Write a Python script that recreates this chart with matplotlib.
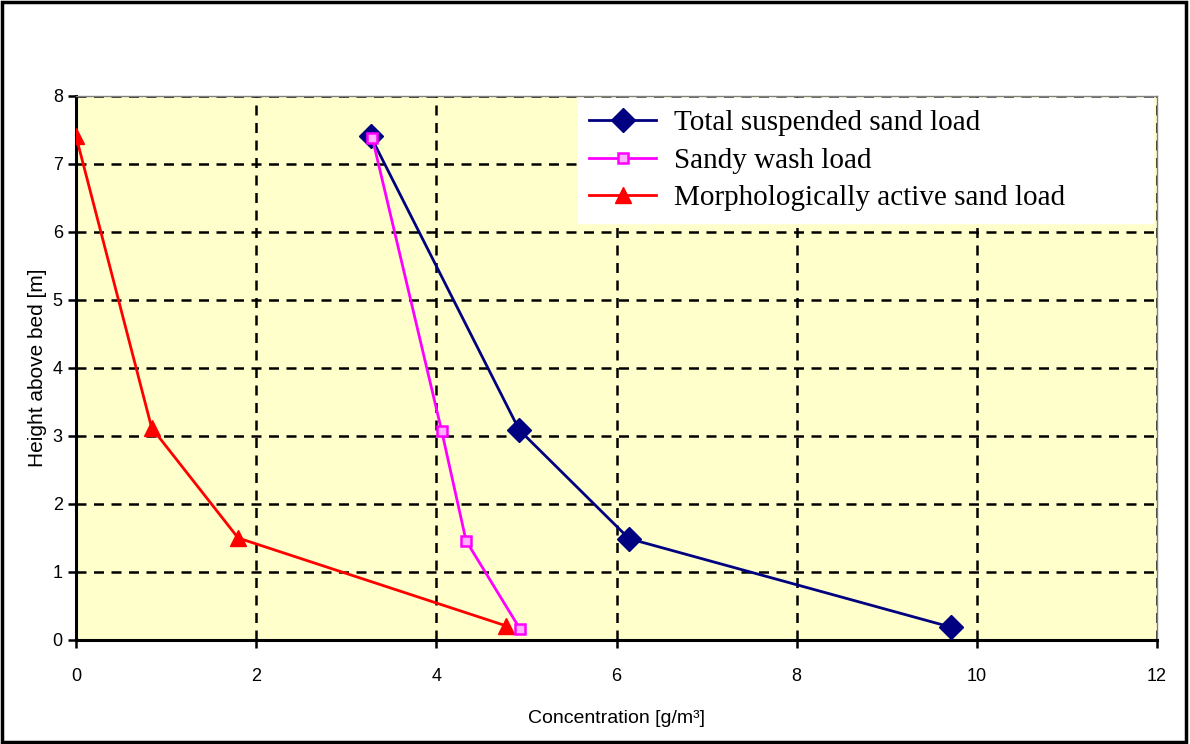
import matplotlib.pyplot as plt
from matplotlib.patches import Rectangle

# Data
total_conc = [3.27, 4.92, 6.14, 9.71]
total_height = [7.41, 3.09, 1.49, 0.19]
wash_conc = [3.29, 4.06, 4.33, 4.93]
wash_height = [7.38, 3.07, 1.46, 0.16]
morph_conc = [0.0, 0.84, 1.80, 4.77]
morph_height = [7.41, 3.12, 1.50, 0.21]

x_ticks = [0, 2, 4, 6, 8, 10, 12]
y_ticks = [0, 1, 2, 3, 4, 5, 6, 7, 8]

fig = plt.figure(figsize=(11.9, 7.44), dpi=100)
ax = fig.add_axes([76 / 1190, 104 / 744, 1081 / 1190, 544 / 744])
ax.set_facecolor('#FFFFCC')

ax.plot(total_conc, total_height, color='#000080', lw=2, marker='D', markersize=12,
        markerfacecolor='#000080', markeredgecolor='#000080', label='Total suspended sand load', zorder=4)
ax.plot(wash_conc, wash_height, color='#FF00FF', lw=2, marker='s', markersize=7,
        markerfacecolor='#FFB0FF', markeredgecolor='#FF00FF', markeredgewidth=1.8,
        label='Sandy wash load', zorder=5)
ax.plot(morph_conc, morph_height, color='#FF0000', lw=2, marker='^', markersize=11,
        markerfacecolor='#FF0000', markeredgecolor='#FF0000', label='Morphologically active sand load', zorder=4)

ax.set_xlim(0, 12)
ax.set_ylim(0, 8)
ax.set_xticks(x_ticks)
ax.set_yticks(y_ticks)
ax.grid(True, color='black', linestyle=(0, (4, 3)), linewidth=1.8)
ax.set_axisbelow(True)

for side in ['left', 'bottom']:
    ax.spines[side].set_linewidth(2.2)
    ax.spines[side].set_color('black')
for side in ['top', 'right']:
    ax.spines[side].set_linewidth(1)
    ax.spines[side].set_color('#808080')

ax.tick_params(axis='both', direction='out', length=6, width=1.8, labelsize=13)
ax.tick_params(axis='x', pad=14)
for lbl in ax.get_xticklabels() + ax.get_yticklabels():
    lbl.set_family('Liberation Sans')

ax.set_xlabel('Concentration [g/m³]', fontsize=14, family='Liberation Sans', labelpad=18)
ax.set_ylabel('Height above bed [m]', fontsize=15, family='Liberation Sans')

# legend box stretched over the upper right part of the plot
leg = ax.legend(loc='upper left', bbox_to_anchor=(0.464, 0.754, 0.532, 0.242), mode='expand',
                prop={'family': 'Liberation Serif', 'size': 21}, frameon=True, fancybox=False,
                edgecolor='white', framealpha=1, borderaxespad=0, handlelength=2.3,
                handletextpad=0.6, labelspacing=0.38, borderpad=0.4)
leg._legend_box.align = 'left'

# outer border around the chart
fig.patches.append(Rectangle((0.002, 0.003), 0.995, 0.994, transform=fig.transFigure,
                             fill=False, edgecolor='black', linewidth=2.5))

fig.savefig('out.png', dpi=100)
